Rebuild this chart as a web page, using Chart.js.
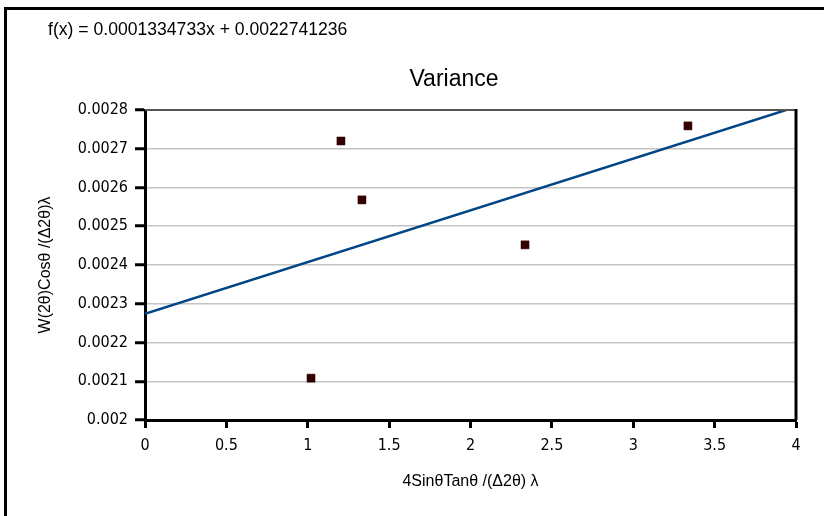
<!DOCTYPE html>
<html>
<head>
<meta charset="utf-8">
<script src="https://cdn.jsdelivr.net/npm/chart.js@4/dist/chart.umd.min.js"></script>
<style>
  html, body { margin: 0; padding: 0; background: #fff; }
  #wrap { width: 824px; height: 516px; }
</style>
</head>
<body>
<div id="wrap"><canvas id="varChart" width="824" height="516"></canvas></div>
<script>
// measured points
var xVals = [1.02, 1.204, 1.333, 2.335, 3.336];
var yVals = [0.002108, 0.00272, 0.002568, 0.002452, 0.002759];

// trend line as printed on the chart
var slope = 0.0001334733;
var intercept = 0.0022741236;
var trendX = [0, 4];

var xTicks = [0, 0.5, 1, 1.5, 2, 2.5, 3, 3.5, 4];
var yTicks = [0.002, 0.0021, 0.0022, 0.0023, 0.0024, 0.0025, 0.0026, 0.0027, 0.0028];

var chartTitle = 'Variance';
var equationText = 'f(x) = 0.0001334733x + 0.0022741236';
var xTitle = '4SinθTanθ /(Δ2θ) λ';
var yTitle = 'W(2θ)Cosθ /(Δ2θ)λ';

var tickFont = { family: '"DejaVu Sans Condensed", "DejaVu Sans", sans-serif', size: 16 };
var axisTitleFont = { family: '"Liberation Sans", Arial, sans-serif', size: 16 };

var points = [];
for (var i = 0; i < xVals.length; i++) {
    points.push({ x: xVals[i], y: yVals[i] });
}
var trend = [];
for (var j = 0; j < trendX.length; j++) {
    trend.push({ x: trendX[j], y: intercept + slope * trendX[j] });
}

var framePlugin = {
    id: 'frame',
    beforeDraw: function (chart) {
        var ctx = chart.ctx;
        ctx.save();
        ctx.fillStyle = '#fff';
        ctx.fillRect(0, 0, chart.width, chart.height);
        // outer border (left and top)
        ctx.strokeStyle = '#000';
        ctx.lineWidth = 3;
        ctx.beginPath();
        ctx.moveTo(5.5, chart.height);
        ctx.lineTo(5.5, 8.5);
        ctx.lineTo(chart.width, 8.5);
        ctx.stroke();
        // texts
        ctx.fillStyle = '#000';
        ctx.textBaseline = 'alphabetic';
        ctx.font = '17.6px "Liberation Sans", Arial, sans-serif';
        ctx.textAlign = 'left';
        ctx.fillText(equationText, 48, 35);
        ctx.font = '23px "Liberation Sans", Arial, sans-serif';
        ctx.textAlign = 'center';
        ctx.fillText(chartTitle, 454, 86);
        ctx.restore();
    },
    afterDraw: function (chart) {
        var a = chart.chartArea;
        var ctx = chart.ctx;
        ctx.save();
        // top edge
        ctx.strokeStyle = '#555';
        ctx.lineWidth = 2;
        ctx.beginPath();
        ctx.moveTo(a.left, a.top);
        ctx.lineTo(a.right, a.top);
        ctx.stroke();
        // right edge
        ctx.strokeStyle = '#000';
        ctx.lineWidth = 3;
        ctx.beginPath();
        ctx.moveTo(a.right, a.top - 1);
        ctx.lineTo(a.right, a.bottom);
        ctx.stroke();
        ctx.restore();
    }
};

var ctx_ = document.getElementById('varChart').getContext('2d');
var varChart = new Chart(ctx_, {
    type: 'scatter',
    data: {
        datasets: [{
            label: 'Trend',
            type: 'line',
            data: trend,
            borderColor: '#004586',
            borderWidth: 2.5,
            pointRadius: 0,
            fill: false,
            clip: 0,
            order: 2
        }, {
            label: 'Points',
            data: points,
            pointStyle: 'rect',
            pointRadius: 5.7,
            backgroundColor: '#330000',
            borderColor: '#330000',
            borderWidth: 0.5,
            order: 1
        }]
    },
    options: {
        responsive: false,
        animation: false,
        devicePixelRatio: 1,
        layout: { padding: { left: 0, right: 28, top: 110, bottom: 0 } },
        plugins: {
            legend: { display: false },
            tooltip: { enabled: false }
        },
        scales: {
            x: {
                type: 'linear',
                min: 0,
                max: 4,
                afterBuildTicks: function (scale) {
                    scale.ticks = xTicks.map(function (v) { return { value: v }; });
                },
                afterFit: function (scale) { scale.height = 96; },
                ticks: {
                    color: '#000',
                    font: tickFont,
                    padding: 8,
                    maxRotation: 0,
                    callback: function (v) { return String(v); }
                },
                grid: {
                    drawOnChartArea: false,
                    drawTicks: true,
                    tickLength: 8,
                    tickWidth: 3,
                    tickColor: '#000'
                },
                border: { color: '#000', width: 3 },
                title: {
                    display: true,
                    text: xTitle,
                    color: '#000',
                    font: axisTitleFont,
                    padding: { top: 0, bottom: 25 }
                }
            },
            y: {
                type: 'linear',
                min: 0.002,
                max: 0.0028,
                afterBuildTicks: function (scale) {
                    scale.ticks = yTicks.map(function (v) { return { value: v }; });
                },
                afterFit: function (scale) { scale.width = 145; },
                ticks: {
                    color: '#000',
                    font: tickFont,
                    padding: 7,
                    callback: function (v) { return String(Number(v.toFixed(4))); }
                },
                grid: {
                    color: '#c4c4c4',
                    lineWidth: 1.5,
                    tickLength: 10,
                    tickWidth: 3,
                    tickColor: '#000'
                },
                border: { color: '#000', width: 3 },
                title: {
                    display: true,
                    text: yTitle,
                    color: '#000',
                    font: axisTitleFont,
                    padding: { top: 36, bottom: 0 }
                }
            }
        }
    },
    plugins: [framePlugin]
});
</script>
</body>
</html>
